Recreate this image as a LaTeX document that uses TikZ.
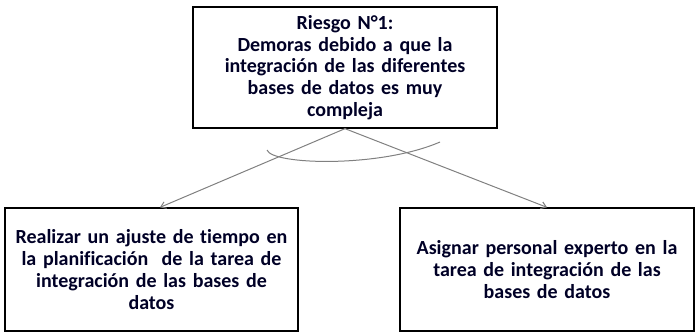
\documentclass[tikz,border=0pt]{standalone}
\usepackage{fontspec}
\setmainfont{Carlito}[Ligatures=NoCommon]
\usetikzlibrary{arrows.meta}
\begin{document}
\begin{tikzpicture}[x=1pt,y=-1pt,
  box/.style={draw=black,line width=1.3pt,align=center,inner sep=0pt,
    font=\bfseries\fontsize{20}{21.8}\selectfont,text=black!85!blue},
  conn/.style={draw=black!50,line width=1pt,-{Straight Barb[length=5pt,width=7pt]}},
  arcline/.style={draw=black!50,line width=1pt}]
\useasboundingbox (0,0) rectangle (696,333);
\node[box,minimum width=304pt,minimum height=121pt,text width=300pt] (top) at (345,67.5)
  {Riesgo N°1:\\Demoras debido a que la\\integración de las diferentes\\bases de datos es muy\\compleja};
\node[box,minimum width=293pt,minimum height=123pt,text width=289pt] (left) at (151.5,269.5)
  {Realizar un ajuste de tiempo en\\la planificación~ de la tarea de\\integración de las bases de\\datos};
\node[box,minimum width=294pt,minimum height=123pt,text width=290pt] (right) at (547,269.5)
  {Asignar personal experto en la\\tarea de integración de las\\bases de datos};
\draw[conn] (top.south) -- ([xshift=8.5pt]left.north);
\draw[conn] (top.south) -- (right.north);
\coordinate (a1) at (267,150);
\coordinate (a2) at (440,142);
\draw[arcline] (a1) .. controls (272,165) and (380,168) .. (a2);
\end{tikzpicture}
\end{document}
